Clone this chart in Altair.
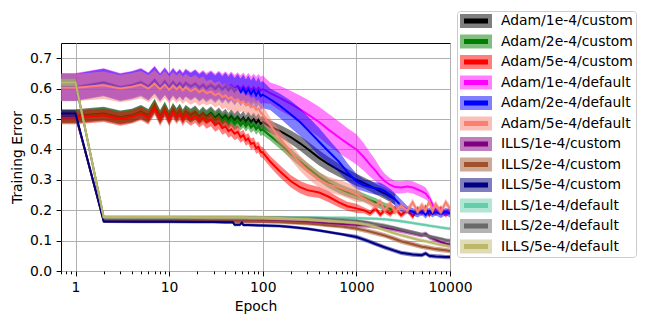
import altair as alt
import pandas as pd

# ---------------- series names and colours ----------------
NAMES = ["Adam/1e-4/custom", "Adam/2e-4/custom", "Adam/5e-4/custom",
         "Adam/1e-4/default", "Adam/2e-4/default", "Adam/5e-4/default",
         "ILLS/1e-4/custom", "ILLS/2e-4/custom", "ILLS/5e-4/custom",
         "ILLS/1e-4/default", "ILLS/2e-4/default", "ILLS/5e-4/default"]
COLORS = ["#000000", "#008000", "#ff0000",
          "#ff00ff", "#0000ff", "#fa8072",
          "#800080", "#a0522d", "#000080",
          "#66cdaa", "#696969", "#bdb76b"]

X_MAJOR = [1, 10, 100, 1000, 10000]
X_TICKS = [0.7, 0.8, 0.9, 1, 2, 3, 4, 5, 6, 7, 8, 9, 10, 20, 30, 40, 50, 60, 70, 80, 90,
           100, 200, 300, 400, 500, 600, 700, 800, 900, 1000, 2000, 3000, 4000, 5000,
           6000, 7000, 8000, 9000, 10000]
Y_TICKS = [0.0, 0.1, 0.2, 0.3, 0.4, 0.5, 0.6, 0.7]

# ---------------- Adam runs (epoch grid) ----------------
adam_epochs = [0.7, 1, 2, 3, 4, 5, 6, 7, 8, 9,
               10, 11, 12, 13, 14, 15, 17, 19, 21, 23,
               25, 28, 31, 34, 37, 40, 43, 46, 50, 54,
               58, 62, 66, 70, 75, 80, 85, 90, 95, 100,
               120, 150, 200, 250, 300, 400, 500, 650, 800, 1000,
               1200, 1400, 1600, 1800, 2000, 2300, 2600, 3000, 3500, 4000,
               4500, 5000, 5500, 6000, 6500, 7000, 8000, 9000, 10000]

adam_1e4_custom_mean = [0.510, 0.510, 0.518, 0.506, 0.512, 0.524, 0.511, 0.542, 0.508, 0.533,
                        0.506, 0.530, 0.514, 0.527, 0.509, 0.524, 0.512, 0.522, 0.507, 0.519,
                        0.508, 0.520, 0.504, 0.516, 0.502, 0.512, 0.498, 0.510, 0.496, 0.507,
                        0.494, 0.505, 0.490, 0.503, 0.489, 0.499, 0.486, 0.497, 0.484, 0.490,
                        0.475, 0.462, 0.440, 0.420, 0.402, 0.372, 0.352, 0.332, 0.316, 0.300,
                        0.290, 0.280, 0.270, 0.262, 0.255, 0.245, 0.236, None, None, None,
                        None, None, None, None, None, None, None, None, None]
adam_1e4_custom_std = ([0.022] * 40
                       + [0.02, 0.02, 0.022, 0.024, 0.025, 0.025, 0.024, 0.022, 0.02, 0.02]
                       + [0.018] * 19)

adam_2e4_custom_mean = [0.508, 0.508, 0.516, 0.504, 0.510, 0.522, 0.509, 0.546, 0.505, 0.536,
                        0.503, 0.531, 0.512, 0.528, 0.507, 0.522, 0.509, 0.519, 0.503, 0.515,
                        0.503, 0.515, 0.498, 0.509, 0.494, 0.503, 0.489, 0.500, 0.485, 0.494,
                        0.480, 0.490, 0.476, 0.487, 0.472, 0.480, 0.466, 0.475, 0.462, 0.465,
                        0.445, 0.420, 0.385, 0.360, 0.340, 0.310, 0.290, 0.272, 0.260, 0.250,
                        0.242, 0.233, 0.226, 0.218, 0.211, 0.205, 0.200, None, None, None,
                        None, None, None, None, None, None, None, None, None]
adam_2e4_custom_std = [0.022] * 30 + [0.018] * 10 + [0.016] * 10 + [0.014] * 19

adam_5e4_custom_mean = [0.505, 0.505, 0.512, 0.500, 0.507, 0.518, 0.504, 0.536, 0.500, 0.526,
                        0.498, 0.523, 0.506, 0.518, 0.500, 0.514, 0.500, 0.510, 0.494, 0.504,
                        0.490, 0.498, 0.480, 0.488, 0.470, 0.476, 0.460, 0.466, 0.452, 0.458,
                        0.440, 0.447, 0.430, 0.436, 0.418, 0.422, 0.404, 0.408, 0.392, 0.390,
                        0.360, 0.330, 0.295, 0.276, 0.266, 0.258, 0.245, 0.226, 0.213, 0.206,
                        0.200, 0.190, 0.205, 0.186, 0.200, 0.188, 0.206, 0.184, 0.200, 0.180,
                        0.205, 0.190, 0.210, 0.184, 0.200, 0.190, 0.206, 0.185, 0.200]
adam_5e4_custom_std = ([0.022] * 30 + [0.018] * 10
                       + [0.018, 0.02, 0.02, 0.02, 0.02, 0.018, 0.018, 0.016, 0.015, 0.015]
                       + [0.01] * 19)

adam_1e4_default_mean = [0.606, 0.606, 0.622, 0.606, 0.613, 0.623, 0.608, 0.630, 0.606, 0.626,
                         0.606, 0.624, 0.610, 0.620, 0.608, 0.621, 0.610, 0.619, 0.606, 0.616,
                         0.606, 0.615, 0.604, 0.614, 0.603, 0.612, 0.601, 0.611, 0.600, 0.609,
                         0.598, 0.608, 0.596, 0.606, 0.595, 0.604, 0.594, 0.603, 0.594, 0.598,
                         0.585, 0.570, 0.550, 0.532, 0.516, 0.490, 0.466, 0.440, 0.420, 0.400,
                         0.375, 0.350, 0.330, 0.310, 0.296, 0.283, 0.276, 0.275, 0.278, 0.275,
                         0.268, 0.262, 0.255, 0.240, 0.218, 0.202, 0.198, 0.190, 0.205]
adam_1e4_default_std = ([0.045] * 40
                        + [0.035, 0.04, 0.042, 0.045, 0.048, 0.05, 0.052, 0.052, 0.05, 0.05]
                        + [0.045, 0.04, 0.035, 0.03, 0.025, 0.022, 0.02, 0.02, 0.02, 0.02,
                           0.02, 0.02, 0.02, 0.015, 0.012, 0.01, 0.01, 0.01, 0.01])

adam_2e4_default_mean = [0.604, 0.604, 0.620, 0.604, 0.611, 0.620, 0.606, 0.628, 0.604, 0.623,
                         0.603, 0.621, 0.607, 0.618, 0.605, 0.618, 0.606, 0.616, 0.602, 0.612,
                         0.600, 0.611, 0.598, 0.610, 0.596, 0.608, 0.594, 0.606, 0.590, 0.603,
                         0.588, 0.601, 0.585, 0.598, 0.582, 0.596, 0.578, 0.592, 0.575, 0.580,
                         0.565, 0.545, 0.515, 0.490, 0.465, 0.425, 0.395, 0.360, 0.325, 0.295,
                         0.282, 0.276, 0.272, 0.270, 0.263, 0.250, 0.235, 0.215, 0.202, 0.195,
                         0.188, 0.196, 0.185, 0.198, 0.188, 0.195, 0.186, 0.196, 0.188]
adam_2e4_default_std = ([0.045] * 40
                        + [0.035, 0.04, 0.045, 0.045, 0.045, 0.045, 0.04, 0.035, 0.03, 0.025]
                        + [0.02] * 8 + [0.012] * 11)

adam_5e4_default_mean = [0.603, 0.603, 0.611, 0.600, 0.606, 0.613, 0.600, 0.616, 0.598, 0.613,
                         0.596, 0.610, 0.598, 0.607, 0.594, 0.604, 0.592, 0.600, 0.588, 0.596,
                         0.585, 0.590, 0.578, 0.585, 0.572, 0.578, 0.566, 0.572, 0.560, 0.565,
                         0.553, 0.558, 0.546, 0.550, 0.538, 0.543, 0.530, 0.534, 0.522, 0.515,
                         0.480, 0.440, 0.390, 0.355, 0.330, 0.300, 0.285, 0.275, 0.265, 0.252,
                         0.238, 0.226, 0.212, 0.228, 0.200, 0.222, 0.195, 0.215, 0.198, 0.226,
                         0.195, 0.216, 0.200, 0.230, 0.198, 0.220, 0.194, 0.226, 0.205]
adam_5e4_default_std = [0.045] * 20 + [0.04] * 10 + [0.03] * 10 + [0.025] * 10 + [0.012] * 19

# ---------------- ILLS runs (epoch grid) ----------------
ills_epochs = [0.7, 1, 2, 5, 10, 20, 30, 40, 48, 50,
               53, 57, 60, 62, 70, 100, 150, 200, 300, 400,
               500, 700, 1000, 1300, 1600, 2000, 2500, 3000, 4000, 5000,
               5500, 6000, 7000, 8000, 9000, 10000]

ills_1e4_custom_mean = [0.513, 0.513, 0.166, 0.166, 0.166, 0.166, 0.165, 0.165, 0.165, 0.165,
                        0.165, 0.165, 0.165, 0.165, 0.165, 0.165, 0.164, 0.163, 0.161, 0.159,
                        0.157, 0.155, 0.152, 0.150, 0.147, 0.143, 0.138, 0.133, 0.125, 0.118,
                        0.122, 0.112, 0.103, 0.095, 0.090, 0.087]
ills_1e4_custom_std = [0.012, 0.012] + [0.006] * 20 + [0.008] * 14

ills_2e4_custom_mean = [0.515, 0.515, 0.165, 0.165, 0.165, 0.164, 0.164, 0.164, 0.164, 0.163,
                        0.163, 0.163, 0.163, 0.163, 0.163, 0.162, 0.161, 0.159, 0.156, 0.153,
                        0.150, 0.146, 0.140, 0.132, 0.125, 0.117, 0.107, 0.098, 0.088, 0.080,
                        0.078, 0.076, 0.072, 0.070, 0.068, 0.066]
ills_2e4_custom_std = [0.012, 0.012] + [0.006] * 20 + [0.008] * 14

ills_5e4_custom_mean = [0.518, 0.518, 0.163, 0.162, 0.162, 0.161, 0.161, 0.160, 0.160, 0.152,
                        0.152, 0.152, 0.159, 0.151, 0.151, 0.150, 0.148, 0.145, 0.139, 0.133,
                        0.128, 0.121, 0.112, 0.100, 0.089, 0.078, 0.068, 0.060, 0.054, 0.052,
                        0.058, 0.050, 0.048, 0.047, 0.046, 0.046]
ills_5e4_custom_std = [0.012, 0.012] + [0.005] * 20 + [0.007] * 14

ills_1e4_default_mean = [0.620, 0.620, 0.177, 0.177, 0.177, 0.177, 0.177, 0.177, 0.177, 0.177,
                         0.177, 0.177, 0.177, 0.177, 0.177, 0.177, 0.177, 0.176, 0.176, 0.176,
                         0.175, 0.175, 0.174, 0.173, 0.172, 0.170, 0.167, 0.164, 0.158, 0.153,
                         0.151, 0.149, 0.146, 0.143, 0.141, 0.139]
ills_1e4_default_std = [0.012, 0.012] + [0.005] * 34

ills_2e4_default_mean = [0.620, 0.620, 0.176, 0.176, 0.176, 0.176, 0.176, 0.176, 0.176, 0.176,
                         0.176, 0.176, 0.176, 0.176, 0.176, 0.175, 0.175, 0.174, 0.173, 0.172,
                         0.170, 0.168, 0.165, 0.160, 0.155, 0.150, 0.143, 0.137, 0.127, 0.120,
                         0.117, 0.114, 0.110, 0.106, 0.102, 0.100]
ills_2e4_default_std = [0.012, 0.012] + [0.006] * 34

ills_5e4_default_mean = [0.620, 0.620, 0.178, 0.178, 0.178, 0.177, 0.177, 0.177, 0.177, 0.177,
                         0.177, 0.177, 0.177, 0.177, 0.176, 0.175, 0.174, 0.172, 0.170, 0.167,
                         0.165, 0.162, 0.158, 0.152, 0.145, 0.135, 0.125, 0.118, 0.108, 0.100,
                         0.098, 0.095, 0.090, 0.086, 0.083, 0.080]
ills_5e4_default_std = [0.012, 0.012] + [0.006] * 34

SERIES = [
    (adam_epochs, adam_1e4_custom_mean, adam_1e4_custom_std),
    (adam_epochs, adam_2e4_custom_mean, adam_2e4_custom_std),
    (adam_epochs, adam_5e4_custom_mean, adam_5e4_custom_std),
    (adam_epochs, adam_1e4_default_mean, adam_1e4_default_std),
    (adam_epochs, adam_2e4_default_mean, adam_2e4_default_std),
    (adam_epochs, adam_5e4_default_mean, adam_5e4_default_std),
    (ills_epochs, ills_1e4_custom_mean, ills_1e4_custom_std),
    (ills_epochs, ills_2e4_custom_mean, ills_2e4_custom_std),
    (ills_epochs, ills_5e4_custom_mean, ills_5e4_custom_std),
    (ills_epochs, ills_1e4_default_mean, ills_1e4_default_std),
    (ills_epochs, ills_2e4_default_mean, ills_2e4_default_std),
    (ills_epochs, ills_5e4_default_mean, ills_5e4_default_std),
]

KEYS = ["k%02d" % i for i in range(len(NAMES))]

rows = []
for name, key, (ep, mu, sd) in zip(NAMES, KEYS, SERIES):
    n = min(len(ep), len(mu), len(sd))
    for i in range(n):
        if mu[i] is None:
            continue
        rows.append({"series": name, "key": key, "epoch": ep[i], "mean": mu[i],
                     "lo": mu[i] - sd[i], "hi": mu[i] + sd[i]})
df = pd.DataFrame(rows)

FONT = "DejaVu Sans"
FS = 13.9
MAJOR_TEST = "indexof([1, 10, 100, 1000, 10000], datum.value) >= 0"

x_axis = alt.Axis(
    values=X_TICKS, format="d", title="Epoch",
    labelExpr=MAJOR_TEST + " ? datum.label : ''",
    tickSize={"condition": {"test": MAJOR_TEST, "value": 4.9}, "value": 2.8},
    gridOpacity={"condition": {"test": MAJOR_TEST, "value": 1}, "value": 0},
    labelOverlap=False, labelFlush=False, domain=False,
)
y_axis = alt.Axis(values=Y_TICKS, format=".1f", title="Training Error",
                  labelFlush=False, domain=False)
x_scale = alt.Scale(type="log", domain=[0.7, 10000], nice=False)
y_scale = alt.Scale(domain=[0, 0.75], nice=False, zero=False)

# Two stacked legends: translucent band patch + solid inner line patch.
# The inner patch path carries two empty move-to points so that its
# bounding box equals the band patch's, which keeps both legends aligned.
LEG_COMMON = dict(
    title=None, orient="none", legendX=396, legendY=-32,
    symbolSize=196, symbolStrokeWidth=0, symbolOffset=9,
    labelOffset=18, rowPadding=6.5, padding=3,
    labelFont=FONT, labelFontSize=FS, labelLimit=300,
)
band_legend = alt.Legend(
    symbolType="M-2.286,-1H2.286V1H-2.286Z", symbolOpacity=0.5,
    strokeColor="#cccccc", cornerRadius=3, labelColor="black",
    **LEG_COMMON,
)
line_legend = alt.Legend(
    symbolType="M-2.286,-1M2.286,1M-1.714,-0.36H1.714V0.36H-1.714Z",
    symbolOpacity=1, labelExpr="''",
    **LEG_COMMON,
)

X = alt.X("epoch:Q", scale=x_scale, axis=x_axis)
FILL = alt.Fill("series:N", scale=alt.Scale(domain=NAMES, range=COLORS), legend=band_legend)
STROKE = alt.Stroke("series:N", scale=alt.Scale(domain=NAMES, range=COLORS), legend=None)
KEYCOLOR = alt.Color("key:N", scale=alt.Scale(domain=KEYS, range=COLORS), legend=line_legend)

base = alt.Chart()
layers = []
for name in NAMES:
    sub = base.transform_filter(alt.datum.series == name)
    layers.append(
        sub.mark_area(opacity=0.5, clip=True).encode(
            x=X, y=alt.Y("lo:Q", scale=y_scale, axis=y_axis), y2="hi:Q", fill=FILL)
    )
    layers.append(
        sub.mark_line(clip=True).encode(
            x=X, y=alt.Y("mean:Q", scale=y_scale, axis=y_axis), stroke=STROKE,
            strokeWidth=alt.value(2))
    )

# invisible layer that only carries the legend's inner line patches
layers.append(
    base.mark_square(opacity=0, size=1, clip=True).encode(
        x=X, y=alt.Y("mean:Q", scale=y_scale, axis=y_axis), color=KEYCOLOR)
)

chart = alt.layer(*layers, data=df).properties(
    width=389, height=228,
    autosize=alt.AutoSizeParams(type="none"),
    padding={"left": 53, "top": 35, "right": 190, "bottom": 45},
).configure_view(
    stroke="black", strokeWidth=1
).configure_axis(
    labelFont=FONT, labelFontSize=FS, labelColor="black",
    titleFont=FONT, titleFontSize=FS, titleFontWeight="normal", titleColor="black",
    tickColor="black", tickWidth=1, tickSize=4.9, labelPadding=4.5,
    gridColor="#b0b0b0", gridWidth=1, titlePadding=5,
)

chart.save("out.html", embed_options={"renderer": "svg", "actions": False})
